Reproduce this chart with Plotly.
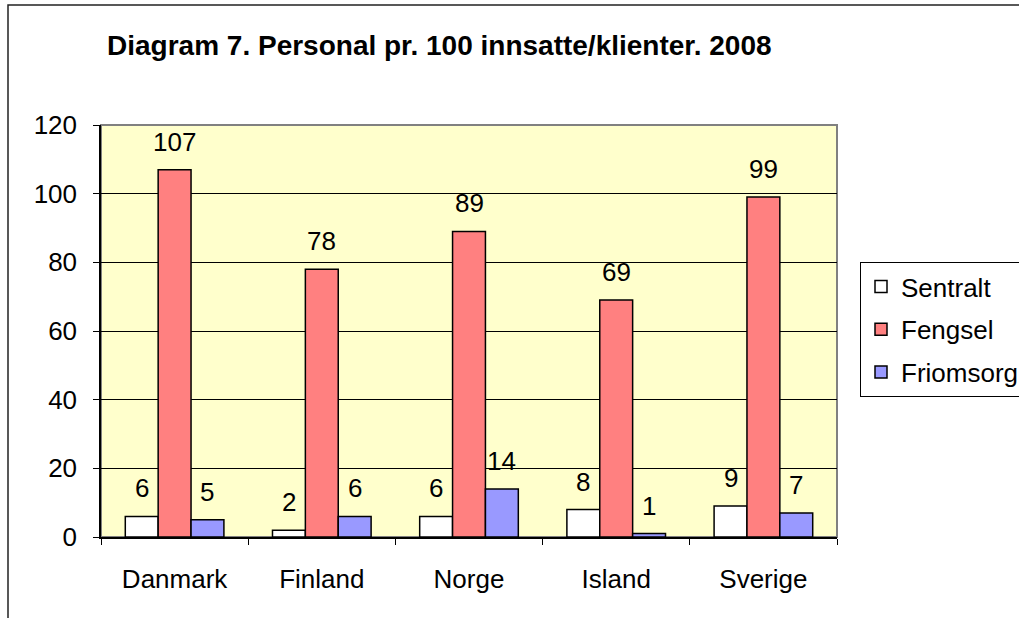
import plotly.graph_objects as go

land = ['Danmark', 'Finland', 'Norge', 'Island', 'Sverige']
sentralt = [6, 2, 6, 8, 9]
fengsel = [107, 78, 89, 69, 99]
friomsorg = [5, 6, 14, 1, 7]
y_ticks = [0, 20, 40, 60, 80, 100, 120]

# plot area in pixels: x 101-837, y 125-537
L, R, T, B = 101, 837, 125, 537
W, H = 1060, 618   # wider than the window so the legend is cut like the original
BARGAP = 0.33

def px(x):
    return (x - L) / (R - L)

def py(y):
    return (B - y) / (B - T)

fig = go.Figure()
serier = [('Sentralt', sentralt, '#FFFFFF'),
          ('Fengsel', fengsel, '#FF8080'),
          ('Friomsorg', friomsorg, '#9999FF')]

# bar width in px, used to put labels over each bar in the group
bar_w = (R - L) / len(land) * (1 - BARGAP) / len(serier)

for i, (navn, verdier, farge) in enumerate(serier):
    fig.add_trace(go.Bar(
        name=navn, x=land, y=verdier, legendgroup=navn,
        marker=dict(color=farge, line=dict(color='black', width=1.5)),
    ))
    for k, v in zip(land, verdier):
        fig.add_annotation(x=k, y=v, text=str(v), showarrow=False,
                           xshift=(i - 1) * bar_w, yshift=28,
                           yanchor='middle', font=dict(size=26, color='black'))

fig.update_layout(
    width=W, height=H,
    margin=dict(l=L, r=W - R, t=T, b=H - B),
    paper_bgcolor='white', plot_bgcolor='#FFFFCC',
    font=dict(family='Liberation Sans, Arial', size=26, color='black'),
    barmode='group', bargap=BARGAP, bargroupgap=0,
    showlegend=True,
    title=dict(text='<b>Diagram 7. Personal pr. 100 innsatte/klienter. 2008</b>',
               x=107 / W, xanchor='left', y=1 - 45 / H, yanchor='middle',
               font=dict(size=28)),
    legend=dict(x=px(860), xanchor='left', y=py(262), yanchor='top',
                bordercolor='black', borderwidth=1, bgcolor='white',
                tracegroupgap=6, font=dict(size=26)),
    xaxis=dict(showline=True, linecolor='black', linewidth=1.5,
               ticks='outside', tickson='boundaries', ticklen=6,
               tickcolor='black', showgrid=False, fixedrange=True,
               ticklabelstandoff=18),
    yaxis=dict(range=[0, 120], tickvals=y_ticks, showline=True,
               linecolor='black', linewidth=1.5, ticks='outside', ticklen=6,
               tickcolor='black', showgrid=True, gridcolor='black',
               gridwidth=1, zeroline=False, ticklabelstandoff=11),
)

# grey border on plot area top/right
fig.add_shape(type='rect', xref='paper', yref='paper', x0=0, x1=1, y0=0, y1=1,
              line=dict(color='#808080', width=2), layer='below')
# outer chart border
fig.add_shape(type='path', xref='paper', yref='paper',
              path=f'M {px(8)} {py(640)} L {px(8)} {py(5)} L {px(1080)} {py(5)}',
              line=dict(color='#222222', width=1.5))

fig.write_html('out.html', config={'displayModeBar': False},
               post_script="document.body.style.margin='0';"
                           "document.body.style.overflow='hidden';")
